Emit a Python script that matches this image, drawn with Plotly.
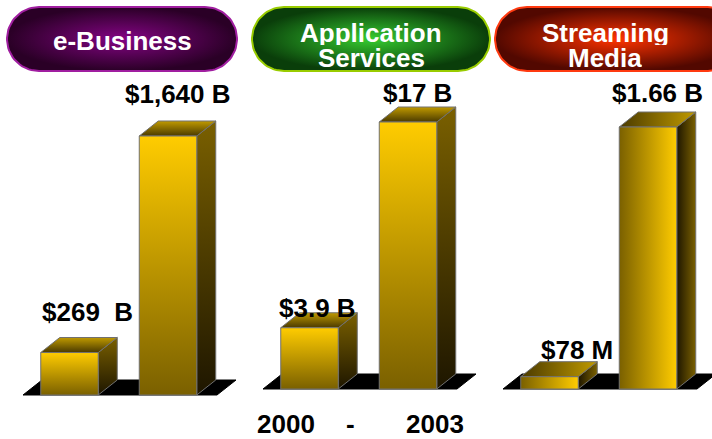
import numpy as np
import plotly.graph_objects as go

# ---------------- data ----------------
panel_titles = [["e-Business"], ["Application", "Services"], ["Streaming", "Media"]]
years = ["2000", "2003"]
ebiz_values = [269, 1640]        # $ billions
app_values = [3.9, 17]           # $ billions
stream_values = [78, 1660]       # $ millions
ebiz_labels = ["$269  B", "$1,640 B"]
app_labels = ["$3.9 B", "$17 B"]
stream_labels = ["$78 M", "$1.66 B"]

# ---------------- style ----------------
W, H = 712, 439
FONT = "Liberation Sans, Arial, sans-serif"
panel_off = [0, 240, 480]
panel_w = [240, 240, 232]
base_px = [395, 389, 389]          # pixel row of the floor front edge
top_px = [136, 122, 127]           # pixel row reached by tallest bar
BAR_C0 = 69.5                      # first bar centre inside panel (px)
BAR_STEP = 98.5                    # px between bar centres
BAR_HW = 28.75                     # half bar width (px)
DX, DY = 19, 15                    # 3-D depth offset (px)
FLOOR_L, FLOOR_R = 23, 217         # floor front edge inside panel (px)
label_dx = [[8, 0], [-2, 0], [18, 0]]
label_gap = [[41, 42], [20, 29], [27, 34]]
vertical = [True, True, False]
pill_colors = [("#840484", "#2a0026", "#a01ea0"),
               ("#36cc30", "#0a3e0a", "#99cc00"),
               ("#ff3300", "#520800", "#ff3a10")]
pill_x = [(7, 237), (252, 490), (495, 740)]
PILL_Y = (7, 71)

values = [ebiz_values, app_values, stream_values]
labels = [ebiz_labels, app_labels, stream_labels]

fig = go.Figure()
EDGE = dict(color="#707070", width=1)


def poly(xs, ys, xa, ya, grad, name):
    fig.add_trace(go.Scatter(
        x=list(xs) + [xs[0]], y=list(ys) + [ys[0]], mode="lines", fill="toself",
        fillgradient=grad, line=EDGE, xaxis=xa, yaxis=ya, hoverinfo="skip",
        showlegend=False, name=name))


annotations = []
for p in range(3):
    ax = "" if p == 0 else str(p + 1)
    xa, ya = "x" + ax, "y" + ax
    vals = values[p]
    vmax = max(vals)
    s = (base_px[p] - top_px[p]) / vmax      # px per value unit
    ux = 1 / BAR_STEP                        # x units per px
    x_start = -BAR_C0 * ux
    x_end = x_start + panel_w[p] * ux
    fig.update_layout(**{
        "xaxis" + ax: dict(domain=[panel_off[p] / W, min(1, (panel_off[p] + panel_w[p]) / W)],
                           range=[x_start, x_end], visible=False, fixedrange=True),
        "yaxis" + ax: dict(domain=[0, 1], range=[-(H - base_px[p]) / s, base_px[p] / s],
                           visible=False, fixedrange=True),
    })
    dx, dy = DX * ux, DY / s
    hw = BAR_HW * ux
    # floor
    fl, fr = (FLOOR_L - BAR_C0) * ux, (FLOOR_R - BAR_C0) * ux
    fig.add_trace(go.Scatter(x=[fl, fr, fr + dx, fl + dx, fl], y=[0, 0, dy, dy, 0],
                             mode="lines", fill="toself", fillcolor="black",
                             line=dict(color="black", width=1), xaxis=xa, yaxis=ya,
                             hoverinfo="skip", showlegend=False))
    gtype = "vertical" if vertical[p] else "horizontal"
    for j, v in enumerate(vals):
        x0, x1 = j - hw, j + hw
        front = dict(type=gtype, colorscale=[[0, "#7a6000"], [1, "#ffcc00"]])
        side = dict(type=gtype, colorscale=[[0, "#1e1600"], [1, "#7a6000"]])
        topg = dict(type=gtype, colorscale=[[0, "#4a3a00"], [1, "#c09a00"]])
        poly([x1, x1 + dx, x1 + dx, x1], [0, dy, v + dy, v], xa, ya, side, years[j])
        poly([x0, x1, x1 + dx, x0 + dx], [v, v, v + dy, v + dy], xa, ya, topg, years[j])
        poly([x0, x1, x1, x0], [0, 0, v, v], xa, ya, front, years[j])
        annotations.append(dict(
            x=j + dx / 2, y=v, xref=xa, yref=ya, text="<b>%s</b>" % labels[p][j].replace("  ", "&nbsp; "),
            showarrow=False, xanchor="center", yanchor="middle",
            xshift=label_dx[p][j], yshift=label_gap[p][j],
            font=dict(family=FONT, size=26, color="black")))

# overlay pixel axes for the title pills
fig.update_layout(xaxis4=dict(domain=[0, 1], range=[0, W], visible=False, fixedrange=True),
                  yaxis4=dict(domain=[0, 1], range=[H, 0], visible=False, fixedrange=True))
for p in range(3):
    xa0, xa1 = pill_x[p]
    y0, y1 = PILL_Y
    r = (y1 - y0) / 2
    cy = (y0 + y1) / 2
    t = np.linspace(-np.pi / 2, np.pi / 2, 40)
    xs = list(xa1 - r + r * np.cos(t)) + list(xa0 + r - r * np.cos(t))
    ys = list(cy + r * np.sin(t)) + list(cy - r * np.sin(t))
    c_in, c_out, c_line = pill_colors[p]
    fig.add_trace(go.Scatter(x=xs + [xs[0]], y=ys + [ys[0]], mode="lines", fill="toself",
                             fillgradient=dict(type="radial", colorscale=[[0, c_in], [1, c_out]]),
                             line=dict(color=c_line, width=2), xaxis="x4", yaxis="y4",
                             hoverinfo="skip", showlegend=False))
    lines = panel_titles[p]
    cx = (xa0 + xa1) / 2 if p < 2 else 605
    ys_t = [41] if len(lines) == 1 else [32, 57]
    for k, txt in enumerate(lines):
        ann = dict(x=cx, y=ys_t[k], xref="x4", yref="y4", text="<b>%s</b>" % txt,
                   showarrow=False, xanchor="center", yanchor="middle",
                   font=dict(family=FONT, size=26, color="white"))
        if len(lines) > 1:
            ann["height"] = 25
        annotations.append(ann)

# year range label
for txt, xp in [(years[0], 286), ("-", 350), (years[1], 434.5)]:
    annotations.append(dict(x=xp, y=424, xref="x4", yref="y4", text="<b>%s</b>" % txt,
                            showarrow=False, xanchor="center", yanchor="middle",
                            font=dict(family=FONT, size=26, color="black")))

fig.update_layout(width=W, height=H, margin=dict(l=0, r=0, t=0, b=0),
                  paper_bgcolor="white", plot_bgcolor="rgba(0,0,0,0)",
                  annotations=annotations, hovermode=False, showlegend=False)
fig.write_html("out.html", config={"displayModeBar": False},
               post_script="document.body.style.margin='0';document.body.style.overflow='hidden';")
